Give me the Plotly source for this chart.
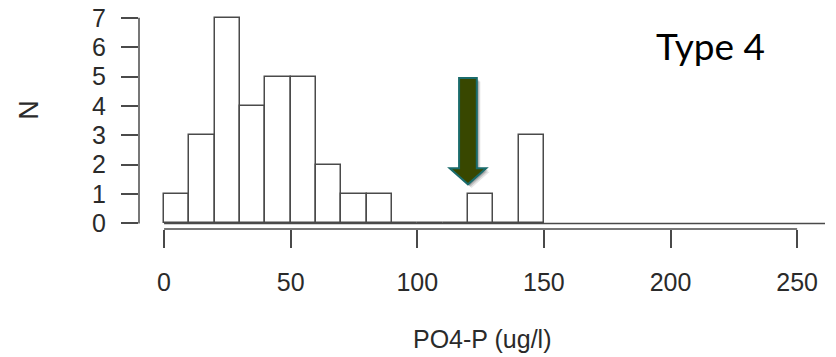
import plotly.graph_objects as go

# Data: histogram of PO4-P (ug/l), bins of width 10
bin_left = [0, 10, 20, 30, 40, 50, 60, 70, 80, 90, 100, 110, 120, 130, 140]
counts = [1, 3, 7, 4, 5, 5, 2, 1, 1, 0, 0, 0, 1, 0, 3]
bin_width = 10
x_ticks = [0, 50, 100, 150, 200, 250]
y_ticks = [0, 1, 2, 3, 4, 5, 6, 7]

# Annotation arrow (data coords)
arrow_x = 120
arrow_top = 4.95
arrow_head_base = 1.88
arrow_tip = 1.33
shaft_half = 3.5
head_half = 7.2

centers = [b + bin_width / 2 for b in bin_left]

fig = go.Figure()
fig.add_trace(go.Bar(
    x=centers, y=counts, width=bin_width,
    marker=dict(color="white", line=dict(color="#4a4a4a", width=1.5)),
    showlegend=False, hoverinfo="skip",
))

def arrow_path(dx=0.0, dy=0.0):
    pts = [
        (arrow_x - shaft_half, arrow_top), (arrow_x + shaft_half, arrow_top),
        (arrow_x + shaft_half, arrow_head_base), (arrow_x + head_half, arrow_head_base),
        (arrow_x, arrow_tip), (arrow_x - head_half, arrow_head_base),
        (arrow_x - shaft_half, arrow_head_base),
    ]
    return "M " + " L ".join(f"{x + dx},{y + dy}" for x, y in pts) + " Z"

shapes = []
# soft shadow
for dx, dy, op in [(1.4, -0.12, 0.10), (1.0, -0.08, 0.14), (0.6, -0.05, 0.18)]:
    shapes.append(dict(type="path", xref="x", yref="y", path=arrow_path(dx, dy),
                       fillcolor=f"rgba(0,0,0,{op})", line=dict(width=0), layer="above"))
shapes.append(dict(type="path", xref="x", yref="y", path=arrow_path(),
                   fillcolor="#384700", line=dict(color="#1a6b6b", width=2), layer="above"))
# baseline at y=0
shapes.append(dict(type="line", xref="x", yref="y", x0=0, x1=261, y0=0, y1=0,
                   line=dict(color="#4a4a4a", width=1.5), layer="above"))
# x axis line (0..250) at bottom of plot area
shapes.append(dict(type="line", xref="x", yref="paper", x0=x_ticks[0], x1=x_ticks[-1], y0=0, y1=0,
                   line=dict(color="#4a4a4a", width=1.5)))
# y axis line (0..7) at left of plot area
shapes.append(dict(type="line", xref="paper", yref="y", x0=0, x1=0, y0=y_ticks[0], y1=y_ticks[-1],
                   line=dict(color="#4a4a4a", width=1.5)))

tick_font = dict(family="Liberation Sans, Arial", size=25, color="#2a2a2a")

fig.update_layout(
    width=836, height=357,
    margin=dict(l=139, r=11, t=4, b=128),
    paper_bgcolor="white", plot_bgcolor="white",
    shapes=shapes,
    bargap=0,
    xaxis=dict(range=[-9.9, 261], tickvals=x_ticks, ticks="outside", ticklen=18,
               tickwidth=1.5, tickcolor="#4a4a4a", showgrid=False, zeroline=False,
               showline=False, ticklabelstandoff=13, ticklabeloverflow="allow",
               tickfont=tick_font),
    yaxis=dict(range=[-0.19, 7.3], tickvals=y_ticks, ticks="outside", ticklen=17,
               tickwidth=1.5, tickcolor="#4a4a4a", showgrid=False, zeroline=False,
               showline=False, ticklabelstandoff=10, ticklabeloverflow="allow",
               tickfont=tick_font),
    annotations=[
        dict(text="N", xref="paper", yref="paper", x=(29 - 139) / 686, y=1 - (107 - 4) / 225,
             showarrow=False, textangle=-90, xanchor="center", yanchor="middle",
             font=dict(family="Liberation Sans, Arial", size=27, color="#2a2a2a")),
        dict(text="PO4-P (ug/l)", xref="paper", yref="paper", x=0.5, y=-(342 - 229) / 225,
             showarrow=False, xanchor="center", yanchor="middle",
             font=dict(family="Liberation Sans, Arial", size=25, color="#2a2a2a")),
        dict(text="Type 4", xref="paper", yref="paper", x=(710 - 139) / 686, y=1 - (41 - 4) / 225,
             showarrow=False, xanchor="center", yanchor="middle",
             font=dict(family="Lato, Calibri", size=37, color="black")),
    ],
)

fig.write_html("out.html", config={"displayModeBar": False},
               post_script="document.body.style.margin='0';document.body.style.overflow='hidden';")
